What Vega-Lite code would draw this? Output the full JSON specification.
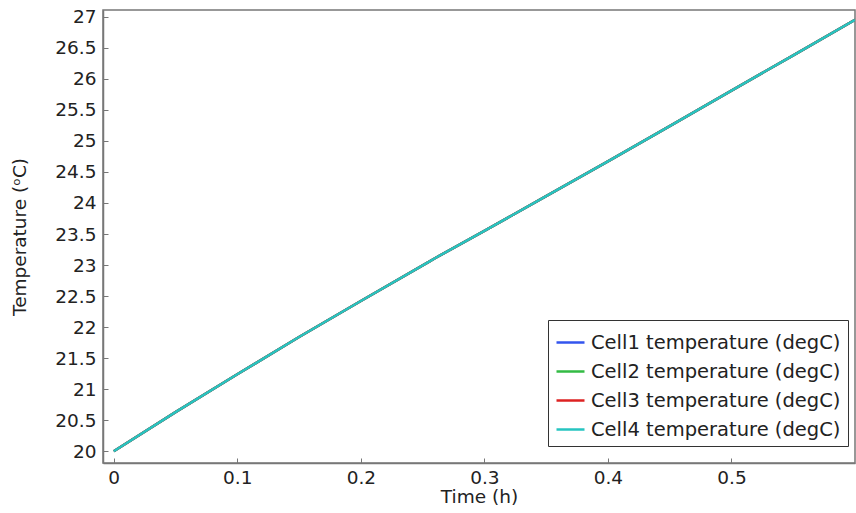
{
  "$schema": "https://vega.github.io/schema/vega-lite/v6.json",
  "width": 752,
  "height": 453,
  "autosize": "none",
  "padding": {"left": 103, "top": 10, "right": 1, "bottom": 50},
  "background": "white",
  "config": {
    "font": "DejaVu Sans",
    "view": {"stroke": "#777777", "strokeWidth": 1.5},
    "axis": {
      "grid": false,
      "domainColor": "#777777",
      "domainWidth": 1.5,
      "tickColor": "#777777",
      "tickSize": -5,
      "tickWidth": 1,
      "labelFont": "DejaVu Sans",
      "labelFontSize": 18.5,
      "labelColor": "#222222",
      "titleFont": "DejaVu Sans",
      "titleFontSize": 18.5,
      "titleFontWeight": "normal",
      "titleColor": "#222222"
    }
  },
  "data": {
    "values": [
      {"t": 0, "T": 20.0, "s": "Cell1 temperature (degC)"},
      {"t": 0.05, "T": 20.63, "s": "Cell1 temperature (degC)"},
      {"t": 0.1, "T": 21.24, "s": "Cell1 temperature (degC)"},
      {"t": 0.15, "T": 21.84, "s": "Cell1 temperature (degC)"},
      {"t": 0.2, "T": 22.42, "s": "Cell1 temperature (degC)"},
      {"t": 0.255, "T": 23.05, "s": "Cell1 temperature (degC)"},
      {"t": 0.26, "T": 23.11, "s": "Cell1 temperature (degC)"},
      {"t": 0.3, "T": 23.55, "s": "Cell1 temperature (degC)"},
      {"t": 0.35, "T": 24.11, "s": "Cell1 temperature (degC)"},
      {"t": 0.4, "T": 24.67, "s": "Cell1 temperature (degC)"},
      {"t": 0.45, "T": 25.24, "s": "Cell1 temperature (degC)"},
      {"t": 0.5, "T": 25.81, "s": "Cell1 temperature (degC)"},
      {"t": 0.55, "T": 26.38, "s": "Cell1 temperature (degC)"},
      {"t": 0.6, "T": 26.95, "s": "Cell1 temperature (degC)"},
      {"t": 0, "T": 20.0, "s": "Cell2 temperature (degC)"},
      {"t": 0.05, "T": 20.63, "s": "Cell2 temperature (degC)"},
      {"t": 0.1, "T": 21.24, "s": "Cell2 temperature (degC)"},
      {"t": 0.15, "T": 21.84, "s": "Cell2 temperature (degC)"},
      {"t": 0.2, "T": 22.42, "s": "Cell2 temperature (degC)"},
      {"t": 0.255, "T": 23.05, "s": "Cell2 temperature (degC)"},
      {"t": 0.26, "T": 23.11, "s": "Cell2 temperature (degC)"},
      {"t": 0.3, "T": 23.55, "s": "Cell2 temperature (degC)"},
      {"t": 0.35, "T": 24.11, "s": "Cell2 temperature (degC)"},
      {"t": 0.4, "T": 24.67, "s": "Cell2 temperature (degC)"},
      {"t": 0.45, "T": 25.24, "s": "Cell2 temperature (degC)"},
      {"t": 0.5, "T": 25.81, "s": "Cell2 temperature (degC)"},
      {"t": 0.55, "T": 26.38, "s": "Cell2 temperature (degC)"},
      {"t": 0.6, "T": 26.95, "s": "Cell2 temperature (degC)"},
      {"t": 0, "T": 20.0, "s": "Cell3 temperature (degC)"},
      {"t": 0.05, "T": 20.63, "s": "Cell3 temperature (degC)"},
      {"t": 0.1, "T": 21.24, "s": "Cell3 temperature (degC)"},
      {"t": 0.15, "T": 21.84, "s": "Cell3 temperature (degC)"},
      {"t": 0.2, "T": 22.42, "s": "Cell3 temperature (degC)"},
      {"t": 0.255, "T": 23.05, "s": "Cell3 temperature (degC)"},
      {"t": 0.26, "T": 23.11, "s": "Cell3 temperature (degC)"},
      {"t": 0.3, "T": 23.55, "s": "Cell3 temperature (degC)"},
      {"t": 0.35, "T": 24.11, "s": "Cell3 temperature (degC)"},
      {"t": 0.4, "T": 24.67, "s": "Cell3 temperature (degC)"},
      {"t": 0.45, "T": 25.24, "s": "Cell3 temperature (degC)"},
      {"t": 0.5, "T": 25.81, "s": "Cell3 temperature (degC)"},
      {"t": 0.55, "T": 26.38, "s": "Cell3 temperature (degC)"},
      {"t": 0.6, "T": 26.95, "s": "Cell3 temperature (degC)"},
      {"t": 0, "T": 20.0, "s": "Cell4 temperature (degC)"},
      {"t": 0.05, "T": 20.63, "s": "Cell4 temperature (degC)"},
      {"t": 0.1, "T": 21.24, "s": "Cell4 temperature (degC)"},
      {"t": 0.15, "T": 21.84, "s": "Cell4 temperature (degC)"},
      {"t": 0.2, "T": 22.42, "s": "Cell4 temperature (degC)"},
      {"t": 0.255, "T": 23.05, "s": "Cell4 temperature (degC)"},
      {"t": 0.26, "T": 23.11, "s": "Cell4 temperature (degC)"},
      {"t": 0.3, "T": 23.55, "s": "Cell4 temperature (degC)"},
      {"t": 0.35, "T": 24.11, "s": "Cell4 temperature (degC)"},
      {"t": 0.4, "T": 24.67, "s": "Cell4 temperature (degC)"},
      {"t": 0.45, "T": 25.24, "s": "Cell4 temperature (degC)"},
      {"t": 0.5, "T": 25.81, "s": "Cell4 temperature (degC)"},
      {"t": 0.55, "T": 26.38, "s": "Cell4 temperature (degC)"},
      {"t": 0.6, "T": 26.95, "s": "Cell4 temperature (degC)"}
    ]
  },
  "mark": {"type": "line", "strokeWidth": 2.5, "clip": true},
  "encoding": {
    "x": {
      "field": "t",
      "type": "quantitative",
      "scale": {"domain": [-0.0087, 0.6], "nice": false, "zero": false},
      "axis": {
        "title": "Time (h)",
        "values": [0, 0.1, 0.2, 0.3, 0.4, 0.5],
        "format": "~g",
        "labelPadding": 10,
        "titlePadding": 1
      }
    },
    "y": {
      "field": "T",
      "type": "quantitative",
      "scale": {"domain": [19.81, 27.11], "nice": false, "zero": false},
      "axis": {
        "title": "Temperature (ᵒC)",
        "values": [20, 20.5, 21, 21.5, 22, 22.5, 23, 23.5, 24, 24.5, 25, 25.5, 26, 26.5, 27],
        "format": "~g",
        "labelPadding": 12,
        "titlePadding": 25
      }
    },
    "color": {
      "field": "s",
      "type": "nominal",
      "scale": {
        "domain": ["Cell1 temperature (degC)", "Cell2 temperature (degC)", "Cell3 temperature (degC)", "Cell4 temperature (degC)"],
        "range": ["#3355ee", "#33bb44", "#dd2222", "#26c4c0"]
      },
      "legend": {
        "title": null,
        "orient": "none",
        "legendX": 445,
        "legendY": 310,
        "symbolType": "stroke",
        "symbolSize": 784,
        "symbolStrokeWidth": 2.5,
        "labelFont": "DejaVu Sans",
        "labelFontSize": 19.5,
        "labelColor": "#222222",
        "labelOffset": 5,
        "rowPadding": 4,
        "padding": 7,
        "fillColor": "white",
        "strokeColor": "#333333",
        "labelLimit": 400
      }
    }
  }
}
